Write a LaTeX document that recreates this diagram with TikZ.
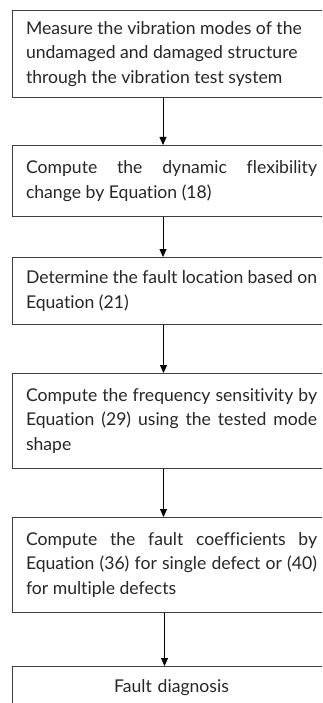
\documentclass[tikz,border=0pt]{standalone}
\usepackage{fontspec}
\setmainfont[Ligatures=NoCommon]{Lato}
\usetikzlibrary{arrows.meta}
\begin{document}
\begin{tikzpicture}[x=1pt,y=1pt]
          % Define styles
          \tikzstyle{stepbox} = [draw=black!75, line width=0.9pt, anchor=north, text width=291pt, inner xsep=14pt, inner ysep=0pt, align=justify, text=black!85, font=\fontsize{17.6}{24.5}\selectfont]
          \tikzstyle{flowarrow} = [black, line width=0.8pt, -{Triangle[length=8pt,width=7pt]}]

          % Frame (boxes run past the right edge)
          \useasboundingbox (0,0) rectangle (322,-703);
          \clip (0,0) rectangle (322,-703);

          % Steps
          \node[stepbox, minimum height=87pt] (measure) at (171.5,-10) {Measure the vibration modes of the\\undamaged and damaged structure\\through the vibration test system};
          \node[stepbox, minimum height=71pt] (flex) at (171.5,-145) {Compute the dynamic flexibility\linebreak change by Equation (18)};
          \node[stepbox, minimum height=67pt] (locate) at (171.5,-257) {Determine the fault location based on\linebreak Equation (21)};
          \node[stepbox, minimum height=95pt] (freq) at (171.5,-373) {Compute the frequency sensitivity by\linebreak Equation (29) using the tested mode\linebreak shape};
          \node[stepbox, minimum height=95pt] (coef) at (171.5,-517) {Compute the fault coefficients by\linebreak Equation (36) for single defect or (40)\linebreak for multiple defects};
          \node[stepbox, minimum height=42pt, align=center] (diag) at (171.5,-666) {Fault diagnosis};

          % Arrows between the steps
          \draw[flowarrow] ([xshift=-8.5pt]measure.south) -- ([xshift=-8.5pt]flex.north);
          \draw[flowarrow] ([xshift=-8.5pt]flex.south) -- ([xshift=-8.5pt]locate.north);
          \draw[flowarrow] ([xshift=-8pt]locate.south) -- ([xshift=-8pt]freq.north);
          \draw[flowarrow] ([xshift=-8pt]freq.south) -- ([xshift=-8pt]coef.north);
          \draw[flowarrow] ([xshift=-7pt]coef.south) -- ([xshift=-7pt]diag.north);

\end{tikzpicture}
\end{document}
